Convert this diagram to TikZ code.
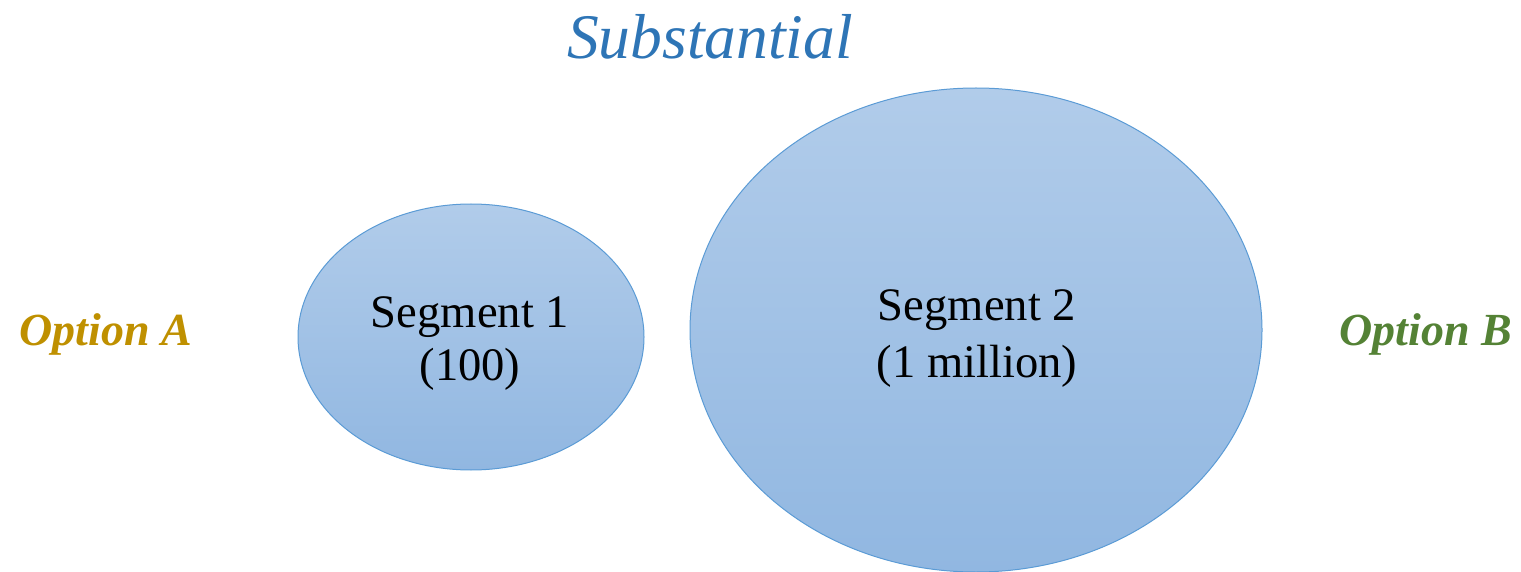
\documentclass[tikz,border=0pt]{standalone}
\usepackage{fontspec}
\setmainfont{Liberation Serif}
\usetikzlibrary{shapes.geometric}
\definecolor{titleblue}{RGB}{46,117,182}
\definecolor{optgold}{RGB}{191,144,0}
\definecolor{optgreen}{RGB}{84,130,53}
\definecolor{elltop}{RGB}{177,204,234}
\definecolor{ellbot}{RGB}{145,183,225}
\definecolor{ellline}{RGB}{91,155,213}
\tikzset{
  seg/.style={ellipse, draw=ellline, line width=1pt, top color=elltop, bottom color=ellbot, inner sep=0pt},
  segtext/.style={align=center, font=\fontsize{46.6}{55}\selectfont, text=black, inner sep=0pt},
  opt/.style={font=\fontsize{46}{55}\selectfont\bfseries\itshape, inner sep=0pt, anchor=base},
}
\begin{document}
\begin{tikzpicture}[x=1pt,y=-1pt]
\useasboundingbox (0,0) rectangle (1521,572);
\node[font=\fontsize{63.5}{70}\selectfont\itshape, text=titleblue, anchor=base, inner sep=0pt] (title) at (710,59) {Substantial};
\node[seg, minimum width=346pt, minimum height=266pt] (s1) at (471,337) {};
\node[seg, minimum width=572pt, minimum height=484pt] (s2) at (976,330) {};
\node[segtext, anchor=base] (s1a) at (470,327) {Segment 1};
\node[segtext, anchor=base] (s1b) at (470,380) {(100)};
\node[segtext, anchor=base] (s2a) at (977,320) {Segment 2};
\node[segtext, anchor=base] (s2b) at (977,377) {(1 million)};
\node[opt, text=optgold] (oa) at (106,345) {Option A};
\node[opt, text=optgreen] (ob) at (1426,345) {Option B};
\end{tikzpicture}
\end{document}
